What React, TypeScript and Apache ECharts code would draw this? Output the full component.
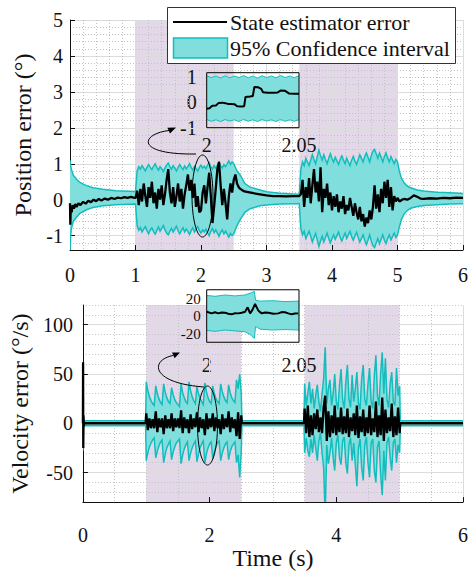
import React, { useEffect, useRef } from "react";
import * as echarts from "echarts";

const FONT = '"Liberation Serif", "Times New Roman", Times, serif';
const FILL = "#80dfdc";
const EDGE = "#14bdbd";
const SHADE = "#e3d8e8";
const MAJOR = "#dcdcdc";
const MINOR = "#c2c2c2";
const INK = "#111111";

const DT = 0.025;
const INSET_DT = 0.0025;

// shaded excitation intervals (s)
const shadedRanges = [
  [1, 2.5],
  [3.5, 5],
];

// tick labels
const posTicks = [-1, 0, 1, 2, 3, 4, 5];
const velTicks = [-50, 0, 50, 100];
const insetPosTicks = [-1, 0, 1];
const insetVelTicksOuter = [-20, 20];
const insetVelTicksMid = [0];

// ---------- Position error (deg) ----------
// idle segments: [t, value]
const posBlackIdle0 = [[0, -0.1], [0.005, -0.7], [0.012, -0.2], [0.025, -0.35], [0.04, -0.15], [0.06, -0.25], [0.08, -0.12], [0.1, -0.2], [0.13, -0.1], [0.16, -0.15], [0.2, -0.06], [0.24, -0.11], [0.28, -0.03], [0.32, -0.07], [0.36, 0.0], [0.4, -0.04], [0.44, 0.02], [0.48, -0.02], [0.53, 0.03], [0.58, 0.0], [0.63, 0.05], [0.68, 0.02], [0.73, 0.06], [0.78, 0.04], [0.83, 0.07], [0.88, 0.05], [0.93, 0.08], [0.97, 0.06]];
const posBlackIdle1 = [[2.525, 0.7], [2.55, 0.45], [2.575, 0.35], [2.6, 0.3], [2.65, 0.24], [2.7, 0.22], [2.8, 0.18], [2.9, 0.15], [3.0, 0.12], [3.1, 0.1], [3.2, 0.1], [3.3, 0.09], [3.4, 0.1], [3.475, 0.1]];
const posBlackIdle2 = [[5.03, -0.05], [5.07, 0.0], [5.1, 0.02], [5.15, 0.0], [5.2, 0.05], [5.25, 0.12], [5.3, 0.08], [5.35, 0.03], [5.4, 0.02], [5.5, 0.04], [5.6, 0.03], [5.7, 0.05], [5.8, 0.04], [5.9, 0.06], [6.0, 0.05]];
// active segments sampled every DT from 1.0 s and 3.5 s
const posBlackA = [0.05, 0.25, -0.15, 0.3, -0.05, 0.45, 0.1, -0.2, 0.35, 0.05, 0.5, -0.1, 0.2, -0.25, 0.3, 0.0, 0.4, -0.15, 0.15, 0.55, 0.85, 0.2, -0.1, 0.35, -0.2, 0.1, 0.45, -0.05, 0.3, -0.25, 0.15, 0.4, 0.7, 0.25, 0.55, 0.05, 0.45, -0.2, 0.1, -0.35, -0.3, 0.2, 0.4, -0.1, 0.35, 0.75, 0.1, -0.65, -0.2, 0.3, 0.85, 1.05, 0.4, -0.15, 0.3, -0.1, -0.55, 0.1, 0.45, 0.2, 0.55];
const posBlackB = [0.1, 0.15, 0.55, -0.2, 0.35, 0.05, 0.6, -0.1, 0.4, 0.85, 0.2, 0.5, -0.05, 0.9, -0.35, 0.3, 0.05, 0.45, -0.15, 0.2, -0.3, 0.1, -0.2, 0.15, -0.35, -0.05, -0.25, 0.1, -0.4, -0.15, -0.3, 0.05, -0.2, -0.45, -0.1, -0.35, -0.55, -0.2, -0.6, -0.4, -0.75, -0.5, -0.65, -0.3, -0.55, -0.2, 0.4, -0.25, 0.15, -0.35, 0.3, -0.1, 0.5, 0.05, 0.55, -0.2, 0.35, -0.3, 0.1, -0.05, 0.05];

// confidence band, idle segments: [t, lower, upper]
const posBandIdle0 = [[0, -1.45, 1.1], [0.01, -1.0, 0.95], [0.02, -0.82, 0.85], [0.05, -0.6, 0.68], [0.1, -0.49, 0.57], [0.15, -0.38, 0.48], [0.25, -0.28, 0.39], [0.35, -0.22, 0.33], [0.5, -0.17, 0.29], [0.7, -0.14, 0.25], [0.99, -0.12, 0.23]];
const posBandIdle1 = [[2.55, -0.72, 0.8], [2.6, -0.55, 0.68], [2.67, -0.35, 0.45], [2.75, -0.25, 0.35], [2.9, -0.17, 0.27], [3.0, -0.15, 0.22], [3.2, -0.12, 0.18], [3.48, -0.11, 0.15]];
const posBandIdle2 = [[5.03, -0.75, 0.78], [5.06, -0.55, 0.6], [5.1, -0.4, 0.47], [5.15, -0.3, 0.38], [5.2, -0.24, 0.33], [5.3, -0.19, 0.27], [5.4, -0.16, 0.24], [5.6, -0.14, 0.21], [5.8, -0.12, 0.19], [6.0, -0.11, 0.17]];
const posHiA = [0.22, 0.8, 0.92, 0.85, 0.95, 0.88, 0.8, 0.9, 0.98, 0.9, 0.84, 0.93, 1.0, 0.9, 0.82, 0.92, 0.86, 0.78, 0.88, 0.97, 1.02, 0.92, 0.85, 0.95, 0.88, 0.8, 0.9, 0.98, 0.9, 0.84, 0.94, 0.86, 0.92, 1.0, 0.9, 0.83, 0.93, 0.86, 0.8, 0.9, 0.96, 0.88, 0.93, 0.86, 0.96, 1.03, 0.92, 0.85, 0.95, 0.88, 0.96, 1.05, 0.95, 0.88, 0.98, 0.92, 1.0, 1.08, 0.98, 1.05, 1.0];
const posLoA = [-0.12, -0.72, -0.85, -0.78, -0.9, -0.82, -0.75, -0.86, -0.95, -0.85, -0.78, -0.88, -0.96, -0.86, -0.76, -0.88, -0.8, -0.72, -0.84, -0.93, -0.98, -0.88, -0.8, -0.9, -0.82, -0.74, -0.86, -0.95, -0.86, -0.78, -0.9, -0.82, -0.88, -0.97, -0.86, -0.78, -0.9, -0.82, -0.75, -0.86, -0.93, -0.84, -0.9, -0.82, -0.92, -1.0, -0.88, -0.8, -0.92, -0.84, -0.93, -1.02, -0.91, -0.84, -0.95, -0.88, -0.96, -1.04, -0.94, -1.0, -0.95];
const posHiB = [0.15, 0.85, 1.05, 0.95, 1.15, 1.05, 0.95, 1.1, 1.25, 1.12, 1.0, 1.2, 1.38, 1.22, 1.1, 1.25, 1.12, 1.0, 1.15, 1.28, 1.15, 1.05, 1.18, 1.08, 0.98, 1.12, 1.22, 1.1, 1.0, 1.15, 1.05, 0.95, 1.1, 1.2, 1.08, 0.98, 1.12, 1.25, 1.15, 1.05, 1.2, 1.3, 1.18, 1.05, 1.22, 1.35, 1.4, 1.28, 1.15, 1.3, 1.18, 1.05, 1.2, 1.3, 1.15, 1.05, 1.2, 1.1, 1.0, 1.12, 1.05];
const posLoB = [-0.11, -0.8, -0.98, -0.88, -1.08, -0.98, -0.88, -1.02, -1.18, -1.05, -0.94, -1.12, -1.3, -1.15, -1.02, -1.18, -1.05, -0.93, -1.08, -1.2, -1.08, -0.98, -1.1, -1.0, -0.9, -1.05, -1.15, -1.03, -0.93, -1.08, -0.98, -0.88, -1.03, -1.13, -1.01, -0.91, -1.05, -1.18, -1.08, -0.98, -1.13, -1.25, -1.12, -0.98, -1.15, -1.28, -1.33, -1.2, -1.08, -1.23, -1.1, -0.98, -1.13, -1.22, -1.08, -0.98, -1.12, -1.02, -0.93, -1.05, -0.98];

// ---------- Velocity error (deg/s) ----------
const velBlackIdle0 = [[0, 0], [0.003, 62], [0.006, -25], [0.01, 8], [0.015, -3], [0.02, 0], [0.99, 0]];
const velBlackIdle1 = [[2.51, 0], [3.49, 0]];
const velBlackIdle2 = [[5.01, 0], [6, 0]];
const velBlackA = [10, -7, 5, -5, 4, -5, 12, -9, 5, -4, 5, -11, 8, -5, 4, -5, 10, -8, 5, -4, 5, -5, 13, -10, 6, -5, 4, -10, 9, -6, 5, -4, 11, -9, 6, -5, 4, -12, 10, -6, 5, -4, 10, -8, 6, -5, 4, -11, 9, -6, 5, -4, 12, -9, 6, -5, 4, -13, 11, -16, 8];
const velBlackB = [15, -10, 18, -14, 8, -12, 10, -6, 14, -9, 6, -10, 16, 28, -18, 12, -14, 8, -10, 18, -12, 6, -9, 16, -11, 7, -10, 15, -14, 6, -8, 10, -12, 18, -15, 7, -9, 14, -13, 6, -10, 18, -12, 5, -9, 22, -14, 8, -12, 26, -18, 14, -10, 6, -8, 20, -14, 7, -12, 16, -10];
const velBandIdle0 = [[0, -28, 20], [0.005, -10, 8], [0.012, -4, 4], [0.025, -2.5, 2.5], [0.99, -2.5, 2.5]];
const velBandIdle1 = [[2.51, -2.5, 2.5], [3.49, -2.5, 2.5]];
const velBandIdle2 = [[5.01, -2.5, 2.5], [6, -2.5, 2.5]];
const velHiA = [42, 33, 27, 23, 20, 18, 38, 30, 25, 21, 19, 40, 31, 26, 22, 20, 36, 29, 24, 21, 19, 17, 40, 31, 26, 22, 20, 42, 33, 27, 23, 20, 37, 30, 25, 22, 19, 41, 32, 26, 22, 20, 38, 30, 25, 22, 20, 40, 32, 27, 23, 21, 39, 31, 26, 23, 21, 44, 35, 50, 30];
const velLoA = [-38, -30, -24, -20, -17, -15, -35, -28, -23, -19, -17, -40, -31, -25, -21, -18, -37, -29, -24, -20, -18, -16, -41, -32, -26, -22, -19, -38, -30, -25, -21, -18, -39, -31, -25, -21, -18, -40, -31, -25, -21, -19, -36, -29, -24, -20, -18, -38, -30, -25, -21, -19, -37, -29, -24, -21, -19, -40, -32, -55, -28];
const velHiB = [40, 18, 30, 42, 20, 35, 15, 28, 39, 22, 12, 30, 45, 77, 20, 35, 44, 18, 30, 50, 22, 14, 38, 55, 24, 15, 42, 59, 25, 16, 49, 22, 35, 52, 20, 14, 45, 59, 24, 18, 40, 56, 22, 15, 48, 69, 28, 18, 50, 72, 30, 66, 24, 16, 40, 52, 22, 18, 56, 28, 38];
const velLoB = [-30, -15, -28, -34, -16, -30, -12, -25, -38, -18, -10, -30, -45, -95, -22, -41, -30, -15, -35, -48, -20, -12, -35, -42, -18, -14, -40, -51, -22, -15, -38, -20, -42, -64, -25, -16, -45, -58, -22, -14, -40, -55, -20, -16, -48, -60, -24, -18, -52, -73, -28, -58, -20, -14, -35, -48, -20, -16, -40, -22, -30];

// ---------- Insets (zoom on 2.00 – 2.05 s) ----------
const insetPosBlack = [[2.0, -0.26], [2.0015, -0.24], [2.003, -0.14], [2.005, -0.13], [2.0065, -0.03], [2.0085, -0.02], [2.01, -0.04], [2.0115, -0.07], [2.013, -0.07], [2.015, -0.08], [2.0165, -0.16], [2.019, -0.17], [2.0203, -0.16], [2.021, 0.2], [2.0235, 0.22], [2.025, 0.24], [2.0258, 0.59], [2.028, 0.58], [2.0295, 0.52], [2.0305, 0.39], [2.033, 0.37], [2.036, 0.37], [2.0385, 0.38], [2.04, 0.45], [2.0425, 0.44], [2.0445, 0.34], [2.0475, 0.33], [2.05, 0.33]];
const insetPosHi = [1.03, 0.96, 1.02, 0.94, 1.03, 0.95, 1.02, 0.96, 1.04, 0.95, 1.02, 0.94, 1.03, 0.96, 1.02, 0.95, 1.04, 0.96, 1.02, 0.95, 1.03];
const insetPosLo = [-0.68, -0.75, -0.69, -0.76, -0.68, -0.74, -0.69, -0.76, -0.67, -0.75, -0.69, -0.76, -0.68, -0.74, -0.69, -0.76, -0.68, -0.75, -0.69, -0.75, -0.68];
const insetVelBlack = [[2.0, 4.9], [2.0027, 3], [2.0045, 4.2], [2.0063, 3], [2.0081, 4], [2.0099, 3.8], [2.0117, 2.5], [2.0135, 1.9], [2.0153, 3.2], [2.0171, 3], [2.019, 3.8], [2.0208, 4.9], [2.0222, 9.9], [2.0235, 3], [2.0247, 6.7], [2.0262, 13.7], [2.028, 6.1], [2.0298, 3], [2.0316, 4], [2.0334, 3.8], [2.0361, 2.6], [2.0388, 3], [2.0406, 4.5], [2.0424, 4.2], [2.0442, 3], [2.046, 1.9], [2.0478, 2.8], [2.0496, 3]];
const insetVelBand = [[2.0, -16.5, 23.5], [2.0045, -17.5, 22.5], [2.0099, -16, 24], [2.0153, -17, 23], [2.0207, -18, 24], [2.0235, -21, 26], [2.0258, -25.5, 28], [2.0265, -12, 18], [2.0289, -15, 17], [2.0352, -16, 17.5], [2.0424, -15.5, 16.5], [2.05, -16, 17]];

// ---------- helpers ----------
const r4 = (x: number) => Math.round(x * 10000) / 10000;
const seq = (t0: number, dt: number, vals: number[]) => vals.map((v, i) => [r4(t0 + i * dt), v]);
const bandSeq = (t0: number, dt: number, lo: number[], hi: number[]) =>
  lo.map((l, i) => [r4(t0 + i * dt), l, hi[i]]);

const posBlack = [...posBlackIdle0, ...seq(1, DT, posBlackA), ...posBlackIdle1, ...seq(3.5, DT, posBlackB), ...posBlackIdle2];
const posBand = [...posBandIdle0, ...bandSeq(1, DT, posLoA, posHiA), ...posBandIdle1, ...bandSeq(3.5, DT, posLoB, posHiB), ...posBandIdle2];
const velBlack = [...velBlackIdle0, ...seq(1, DT, velBlackA), ...velBlackIdle1, ...seq(3.5, DT, velBlackB), ...velBlackIdle2];
const velBand = [...velBandIdle0, ...bandSeq(1, DT, velLoA, velHiA), ...velBandIdle1, ...bandSeq(3.5, DT, velLoB, velHiB), ...velBandIdle2];
const insetPosBand = bandSeq(2, INSET_DT, insetPosLo, insetPosHi);

const tickLabel = (margin: number, size = 20) => ({ fontFamily: FONT, fontSize: size, color: INK, margin });
const nameStyle = { fontFamily: FONT, fontSize: 24, color: INK };

// confidence band drawn as one filled polygon through the axes' scales
function bandSeries(band: number[][], xi: number, yi: number, w: number) {
  return {
    type: "custom", xAxisIndex: xi, yAxisIndex: yi, silent: true, z: 2,
    data: band,
    encode: { x: 0, y: [1, 2] },
    renderItem: (params: any, api: any) => {
      if (params.dataIndex !== 0) return null;
      const upper = band.map((d) => api.coord([d[0], d[2]]));
      const lower = band.map((d) => api.coord([d[0], d[1]]));
      const cs = params.coordSys;
      return {
        type: "group",
        clipPath: { type: "rect", shape: { x: cs.x, y: cs.y, width: cs.width, height: cs.height } },
        children: [
          { type: "polygon", shape: { points: upper.concat(lower.slice().reverse()) }, style: { fill: FILL, stroke: "none" } },
          { type: "polyline", shape: { points: upper }, style: { fill: "none", stroke: EDGE, lineWidth: w } },
          { type: "polyline", shape: { points: lower }, style: { fill: "none", stroke: EDGE, lineWidth: w } },
        ],
      };
    },
  };
}
function blackSeries(data: number[][], xi: number, yi: number, w: number) {
  return {
    type: "line", xAxisIndex: xi, yAxisIndex: yi, silent: true, symbol: "none",
    data, lineStyle: { color: "#000", width: w }, z: 4,
  };
}
function shadeSeries(xi: number, yi: number) {
  return {
    type: "line", xAxisIndex: xi, yAxisIndex: yi, silent: true, data: [], z: -1,
    markArea: {
      silent: true, z: -1,
      itemStyle: { color: SHADE },
      data: shadedRanges.map(([a, b]) => [{ xAxis: a }, { xAxis: b }]),
    },
  };
}

function mainX(grid: number, interval: number, minorSplit: number, margin: number, extra: any = {}) {
  return {
    gridIndex: grid, type: "value", position: "bottom", min: 0, max: 6, interval, z: 1,
    axisLine: { show: true, onZero: false, lineStyle: { color: INK, width: 1 } },
    axisTick: { show: true, inside: true, length: 5, lineStyle: { color: INK } },
    axisLabel: tickLabel(margin),
    splitLine: { show: true, lineStyle: { color: MAJOR, width: 1 } },
    minorTick: { show: false, splitNumber: minorSplit },
    minorSplitLine: { show: true, lineStyle: { color: MINOR, width: 1, type: [1, 2] } },
    ...extra,
  };
}
function mainY(grid: number, min: number, max: number, ticks: number[], margin: number, name: string, gap: number) {
  return {
    gridIndex: grid, type: "value", position: "left", min, max, z: 1,
    axisLine: { show: true, onZero: false, lineStyle: { color: INK, width: 1 } },
    axisTick: { show: true, inside: true, length: 5, lineStyle: { color: INK }, customValues: ticks },
    axisLabel: { ...tickLabel(margin), customValues: ticks, interval: 0 },
    splitLine: { show: true, lineStyle: { color: MAJOR, width: 1 } },
    name, nameLocation: "middle", nameGap: gap, nameTextStyle: nameStyle,
  };
}
function minorY(grid: number, min: number, max: number, interval: number) {
  return {
    gridIndex: grid, type: "value", position: "left", min, max, interval, z: 0,
    axisLine: { show: false }, axisTick: { show: false }, axisLabel: { show: false },
    splitLine: { show: true, lineStyle: { color: MINOR, width: 1, type: [1, 2] } },
  };
}
function insetX(grid: number, margin: number) {
  return {
    gridIndex: grid, type: "value", position: "bottom", min: 2, max: 2.05, interval: 0.05,
    axisLine: { show: false }, axisTick: { show: false }, splitLine: { show: false },
    axisLabel: tickLabel(margin),
  };
}
function insetY(grid: number, min: number, max: number, ticks: number[], margin: number, size = 20) {
  return {
    gridIndex: grid, type: "value", position: "left", offset: 0, min, max,
    axisLine: { show: false }, axisTick: { show: false, customValues: ticks }, splitLine: { show: false },
    axisLabel: { ...tickLabel(margin, size), customValues: ticks, interval: 0, hideOverlap: false },
  };
}

function buildOption(): any {
  const insetGrid = { show: true, borderColor: "#000", borderWidth: 1, backgroundColor: "transparent", z: 10 };
  return {
    animation: false,
    backgroundColor: "#fff",
    grid: [
      { left: 70, top: 20, width: 393, height: 230 },
      { left: 78, top: 305, width: 385, height: 202 },
      { left: 206.7, top: 72.7, width: 92.3, height: 55, ...insetGrid },
      { left: 206.7, top: 289.75, width: 92.3, height: 52.5, ...insetGrid },
    ],
    xAxis: [
      mainX(0, 1, 5, 15),
      mainX(1, 2, 4, 23, { name: "Time (s)", nameLocation: "middle", nameGap: 36, nameTextStyle: nameStyle }),
      insetX(2, 7),
      insetX(3, 13),
    ],
    yAxis: [
      mainY(0, -1.4, 5, posTicks, 7, "Position error (°)", 32),
      minorY(0, -1.4, 5, 0.2),
      mainY(1, -80, 120, velTicks, 10, "Velocity error (°/s)", 45),
      minorY(1, -80, 120, 10),
      insetY(2, -1, 1.15, insetPosTicks, 10),
      insetY(3, -30, 30, insetVelTicksOuter, 6, 15),
      insetY(3, -30, 30, insetVelTicksMid, 6, 15),
    ],
    series: [
      shadeSeries(0, 0),
      shadeSeries(1, 2),
      bandSeries(posBand, 0, 0, 1.5),
      blackSeries(posBlack, 0, 0, 2.3),
      bandSeries(velBand, 1, 2, 1.5),
      blackSeries(velBlack, 1, 2, 2.3),
      bandSeries(insetPosBand, 2, 4, 1),
      blackSeries(insetPosBlack, 2, 4, 2),
      bandSeries(insetVelBand, 3, 5, 1),
      blackSeries(insetVelBlack, 3, 5, 2),
    ],
    graphic: {
      elements: [
        // legend
        { type: "rect", z: 100, shape: { x: 167.5, y: 7.5, width: 288, height: 56 }, style: { fill: "#fff", stroke: "#333", lineWidth: 1 } },
        { type: "line", z: 101, shape: { x1: 173, y1: 22, x2: 227, y2: 22 }, style: { stroke: "#000", lineWidth: 2 } },
        { type: "rect", z: 101, shape: { x: 173.5, y: 38, width: 54, height: 20 }, style: { fill: FILL, stroke: EDGE, lineWidth: 1.5 } },
        { type: "text", z: 101, x: 230, y: 22, style: { text: "State estimator error", fontFamily: FONT, fontSize: 22, fill: INK, verticalAlign: "middle", align: "left" } },
        { type: "text", z: 101, x: 230, y: 48, style: { text: "95% Confidence interval", fontFamily: FONT, fontSize: 22, fill: INK, verticalAlign: "middle", align: "left" } },
        // zoom markers, top
        { type: "ellipse", z: 50, shape: { cx: 202.5, cy: 196, rx: 10.5, ry: 41 }, style: { fill: "none", stroke: "#000", lineWidth: 1 } },
        { type: "bezierCurve", z: 50, shape: { x1: 196, y1: 154, cpx1: 135, cpy1: 155, cpx2: 140, cpy2: 134, x2: 169, y2: 130.5 }, style: { fill: "none", stroke: "#000", lineWidth: 1 } },
        { type: "polygon", z: 50, shape: { points: [[176, 127.5], [170, 133.6], [167.4, 127.8]] }, style: { fill: "#000" } },
        // zoom markers, bottom
        { type: "ellipse", z: 50, shape: { cx: 207.5, cy: 425.5, rx: 10, ry: 39.5 }, style: { fill: "none", stroke: "#000", lineWidth: 1 } },
        { type: "bezierCurve", z: 50, shape: { x1: 204, y1: 387, cpx1: 150, cpy1: 383, cpx2: 150, cpy2: 360, x2: 173, y2: 355.5 }, style: { fill: "none", stroke: "#000", lineWidth: 1 } },
        { type: "polygon", z: 50, shape: { points: [[180, 352.5], [174.6, 358.3], [172, 352.5]] }, style: { fill: "#000" } },
      ],
    },
  };
}

export default function App() {
  const ref = useRef<HTMLDivElement>(null);
  useEffect(() => {
    const chart = echarts.init(ref.current!, null, { renderer: "svg" });
    chart.setOption(buildOption());
    return () => chart.dispose();
  }, []);
  return (
    <div
      ref={ref}
      style={{ position: "fixed", left: 0, top: 0, width: 476, height: 571, background: "#fff" }}
    />
  );
}
